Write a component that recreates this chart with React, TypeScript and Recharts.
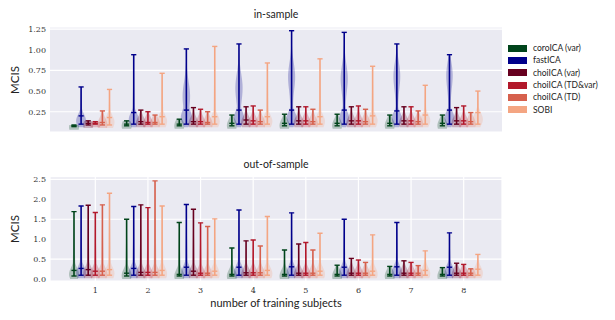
import { ComposedChart, Bar, XAxis, YAxis, CartesianGrid } from 'recharts';

const groups = ['1', '2', '3', '4', '5', '6', '7', '8'];
const methods = ['coroICA (var)', 'fastICA', 'choiICA (var)', 'choiICA (TD&var)', 'choiICA (TD)', 'SOBI'];
const colors = ['#00441b', '#00008b', '#67001f', '#b2182b', '#d6604d', '#f4a582'];

// in-sample: one row per method, one value per group
const inMin = [
  [0.07, 0.08, 0.08, 0.08, 0.08, 0.08, 0.08, 0.08],
  [0.1, 0.1, 0.1, 0.1, 0.1, 0.1, 0.1, 0.1],
  [0.09, 0.1, 0.1, 0.1, 0.1, 0.1, 0.1, 0.1],
  [0.1, 0.1, 0.1, 0.1, 0.1, 0.1, 0.1, 0.1],
  [0.09, 0.1, 0.1, 0.1, 0.1, 0.1, 0.1, 0.1],
  [0.09, 0.1, 0.1, 0.1, 0.1, 0.1, 0.1, 0.1],
];
const inMed = [
  [0.08, 0.1, 0.1, 0.11, 0.11, 0.11, 0.11, 0.11],
  [0.2, 0.24, 0.27, 0.27, 0.27, 0.27, 0.26, 0.27],
  [0.11, 0.13, 0.13, 0.15, 0.14, 0.14, 0.14, 0.14],
  [0.11, 0.12, 0.13, 0.14, 0.14, 0.14, 0.14, 0.14],
  [0.12, 0.12, 0.12, 0.13, 0.13, 0.13, 0.13, 0.13],
  [0.18, 0.19, 0.19, 0.19, 0.19, 0.2, 0.21, 0.24],
];
const inMax = [
  [0.09, 0.14, 0.16, 0.21, 0.22, 0.22, 0.21, 0.21],
  [0.55, 0.94, 1.01, 1.07, 1.23, 1.21, 1.07, 0.94],
  [0.14, 0.27, 0.3, 0.31, 0.31, 0.31, 0.31, 0.3],
  [0.13, 0.25, 0.28, 0.32, 0.31, 0.32, 0.31, 0.32],
  [0.26, 0.21, 0.25, 0.27, 0.28, 0.28, 0.26, 0.24],
  [0.52, 0.715, 1.04, 0.84, 0.89, 0.8, 0.57, 0.5],
];
// second mode of the fastICA in-sample violins (0 = none)
const fastIcaBump = [0, 0, 0.45, 0.55, 0.68, 0.66, 0.69, 0.7];

// out-of-sample
const outMin = [
  [0.08, 0.08, 0.08, 0.08, 0.08, 0.08, 0.08, 0.08],
  [0.1, 0.1, 0.1, 0.1, 0.1, 0.1, 0.1, 0.1],
  [0.1, 0.1, 0.1, 0.1, 0.1, 0.1, 0.1, 0.1],
  [0.1, 0.1, 0.1, 0.1, 0.1, 0.1, 0.1, 0.1],
  [0.1, 0.1, 0.1, 0.1, 0.1, 0.1, 0.1, 0.1],
  [0.1, 0.1, 0.1, 0.1, 0.1, 0.1, 0.1, 0.1],
];
const outMed = [
  [0.22, 0.15, 0.12, 0.12, 0.12, 0.12, 0.12, 0.12],
  [0.27, 0.27, 0.3, 0.3, 0.31, 0.3, 0.31, 0.3],
  [0.24, 0.17, 0.2, 0.16, 0.15, 0.15, 0.15, 0.15],
  [0.2, 0.17, 0.15, 0.16, 0.15, 0.15, 0.15, 0.15],
  [0.2, 0.17, 0.15, 0.16, 0.15, 0.15, 0.15, 0.15],
  [0.24, 0.22, 0.2, 0.22, 0.2, 0.2, 0.22, 0.25],
];
const outMax = [
  [1.69, 1.5, 1.42, 0.78, 0.73, 0.35, 0.32, 0.29],
  [1.83, 1.82, 1.87, 1.73, 1.66, 1.5, 1.42, 1.16],
  [1.85, 1.86, 1.75, 0.96, 0.88, 0.52, 0.46, 0.4],
  [1.67, 1.79, 1.41, 0.98, 0.92, 0.48, 0.42, 0.37],
  [1.86, 2.46, 1.32, 0.83, 0.73, 0.42, 0.34, 0.26],
  [2.15, 1.83, 1.51, 1.57, 1.15, 1.11, 0.71, 0.62],
];

const inTicks = [0.25, 0.5, 0.75, 1.0, 1.25];
const outTicks = [0, 0.5, 1.0, 1.5, 2.0, 2.5];

function buildRows(mins: number[][], meds: number[][], maxs: number[][], bumps?: number[]) {
  return groups.map((g, i) => {
    const row: any = { group: g };
    methods.forEach((_, k) => {
      row[`r${k}`] = [mins[k][i], maxs[k][i]];
      row[`med${k}`] = meds[k][i];
      row[`bump${k}`] = k === 1 && bumps ? bumps[i] : 0;
    });
    return row;
  });
}

const inRows = buildRows(inMin, inMed, inMax, fastIcaBump);
const outRows = buildRows(outMin, outMed, outMax);

function violin(k: number) {
  return (props: any) => {
    const { x, y, width, height, payload } = props;
    if (!payload || y == null || isNaN(y)) return <g />;
    const [lo, hi] = payload[`r${k}`];
    const med = payload[`med${k}`];
    const bump = payload[`bump${k}`];
    const top = Math.min(y, y + height);
    const bot = Math.max(y, y + height);
    const span = hi - lo || 1e-6;
    const toPx = (v: number) => bot - ((v - lo) / span) * (bot - top);
    const cx = x + width / 2;
    const pMed = toPx(med);
    const pMode = (pMed + bot) / 2 + 1;
    const pBump = bump ? toPx(bump) : 0;
    const start = bot + 3;
    const n = 40;
    const left: string[] = [];
    const right: string[] = [];
    for (let i = 0; i <= n; i++) {
      const py = start - ((start - top) * i) / n;
      const main = 5 * Math.exp(-0.5 * ((py - pMode) / 6.5) ** 2);
      const tail = 1.6 * Math.max(0, (py - top) / (start - top + 1e-6));
      let w = Math.max(main, tail);
      if (bump) w += 2.8 * Math.exp(-0.5 * ((py - pBump) / 13) ** 2);
      if (i === n) w = 0.5;
      left.push(`${cx - w},${py}`);
      right.unshift(`${cx + w},${py}`);
    }
    const c = colors[k];
    const cap = 2.6;
    return (
      <g>
        <polygon points={[...left, ...right].join(' ')} fill={c} fillOpacity={0.25} />
        <line x1={cx} x2={cx} y1={top} y2={bot} stroke={c} strokeWidth={1.6} />
        <line x1={cx - cap} x2={cx + cap} y1={top} y2={top} stroke={c} strokeWidth={1.4} />
        <line x1={cx - cap} x2={cx + cap} y1={bot} y2={bot} stroke={c} strokeWidth={1.4} />
        <line x1={cx - cap} x2={cx + cap} y1={pMed} y2={pMed} stroke={c} strokeWidth={1.4} />
      </g>
    );
  };
}

const tickStyle = { fontFamily: '"DejaVu Serif", serif', fontSize: 8, fill: '#333' };
const sans = 'Lato, "DejaVu Sans", sans-serif';

function Panel({ rows, domain, ticks, digits, showX, height, top }: any) {
  return (
    <ComposedChart
      width={615}
      height={height}
      data={rows}
      margin={{ top, right: 113, bottom: showX ? 9 : 8, left: 30 }}
      barGap={1.1}
    >
      <CartesianGrid fill="#eaeaf2" stroke="#ffffff" strokeWidth={1.2} vertical={showX} />
      <XAxis
        dataKey="group"
        hide={!showX}
        padding={{ left: 19, right: 12 }}
        axisLine={false}
        tickLine={false}
        tickSize={0}
        tickMargin={6}
        tick={tickStyle}
        height={30}
      />
      <YAxis
        type="number"
        domain={domain}
        ticks={ticks}
        allowDataOverflow
        width={20}
        axisLine={false}
        tickLine={false}
        tickSize={0}
        tickMargin={4}
        tick={tickStyle}
        tickFormatter={(v: number) => v.toFixed(digits)}
      />
      {methods.map((m, k) => (
        <Bar key={m} dataKey={`r${k}`} barSize={6} shape={violin(k)} isAnimationActive={false} />
      ))}
      <Bar dataKey="none" barSize={6} isAnimationActive={false} />
    </ComposedChart>
  );
}

export default function App() {
  return (
    <div style={{ position: 'absolute', left: 0, top: 0, width: 615, height: 320, background: '#fff' }}>
      <div style={{ position: 'absolute', left: 0, top: 0 }}>
        <Panel rows={inRows} domain={[0.005, 1.275]} ticks={inTicks} digits={2} showX={false} height={140} top={27} />
      </div>
      <div style={{ position: 'absolute', left: 0, top: 150 }}>
        <Panel rows={outRows} domain={[-0.045, 2.565]} ticks={outTicks} digits={1} showX height={170} top={26.7} />
      </div>
      <div style={{ position: 'absolute', left: 50, width: 452, top: 8, textAlign: 'center', fontFamily: sans, fontSize: 10.5, color: '#222' }}>
        in-sample
      </div>
      <div style={{ position: 'absolute', left: 50, width: 452, top: 158, textAlign: 'center', fontFamily: sans, fontSize: 10.5, color: '#222' }}>
        out-of-sample
      </div>
      {[79.5, 229].map((cy) => (
        <div
          key={cy}
          style={{
            position: 'absolute', left: 14, top: cy, transform: 'translate(-50%, -50%) rotate(-90deg)',
            fontFamily: sans, fontSize: 11.5, color: '#222', whiteSpace: 'nowrap',
          }}
        >
          MCIS
        </div>
      ))}
      <div style={{ position: 'absolute', left: 50, width: 452, top: 296, textAlign: 'center', fontFamily: sans, fontSize: 11, color: '#222' }}>
        number of training subjects
      </div>
      <div style={{ position: 'absolute', left: 508, top: 42, fontFamily: sans, fontSize: 8.5, color: '#222' }}>
        {methods.map((m, k) => (
          <div key={m} style={{ display: 'flex', alignItems: 'center', height: 12.3 }}>
            <span style={{ display: 'inline-block', width: 19, height: 7, background: colors[k], marginRight: 6 }} />
            <span>{m}</span>
          </div>
        ))}
      </div>
    </div>
  );
}
